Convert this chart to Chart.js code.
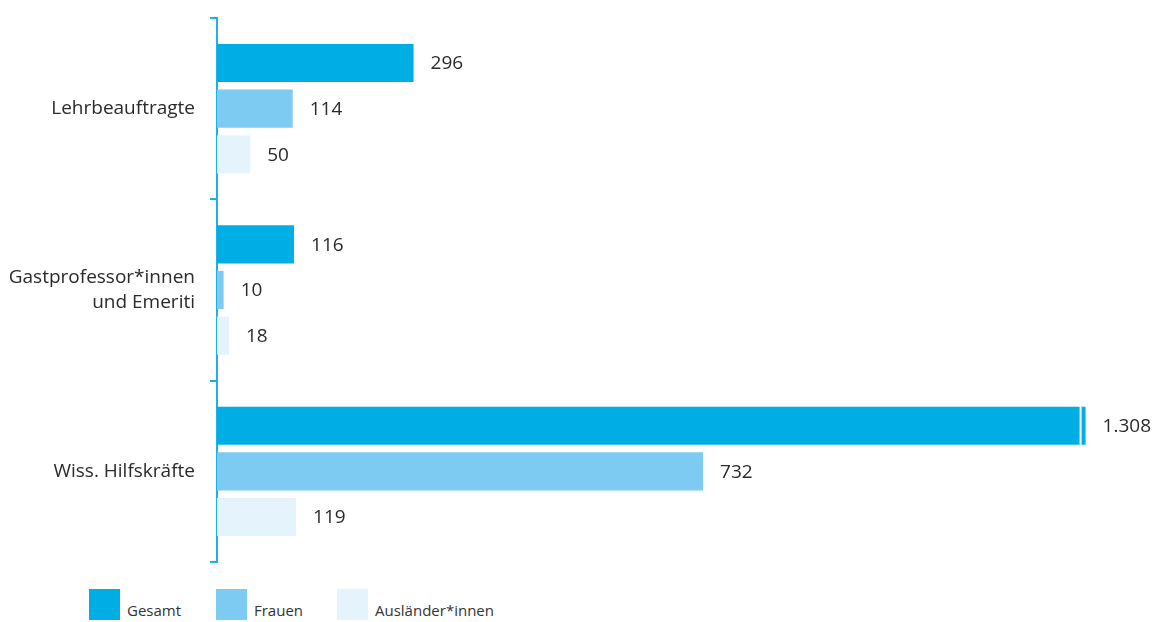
<!DOCTYPE html>
<html>
<head>
<meta charset="utf-8">
<script src="https://cdn.jsdelivr.net/npm/chart.js@4/dist/chart.umd.min.js"></script>
<style>
  html, body { margin: 0; padding: 0; background: #fff; }
  #wrap { position: relative; width: 1155px; height: 622px; }
  #box { position: absolute; left: 0; top: 0; width: 1155px; height: 580px; }
  .legend { position: absolute; top: 589px; font-family: "Open Sans", sans-serif; font-size: 15px; color: #333; }
  .legend span.sw { position: absolute; left: 0; top: 0; width: 31px; height: 31px; }
  .legend span.tx { position: absolute; top: 11px; white-space: nowrap; }
</style>
</head>
<body>
<div id="wrap">
  <div id="box"><canvas id="chart"></canvas></div>
  <div id="legend"></div>
</div>
<script>
const categories = ['Lehrbeauftragte', ['Gastprofessor*innen', 'und Emeriti'], 'Wiss. Hilfskräfte'];
const seriesNames = ['Gesamt', 'Frauen', 'Ausländer*innen'];
const gesamt = [296, 116, 1308];
const frauen = [114, 10, 732];
const auslaender = [50, 18, 119];
const colors = ['#00aee6', '#7dcbf2', '#e4f3fc'];

function fmt(v) {
    return String(v).replace(/\B(?=(\d{3})+(?!\d))/g, '.');
}

// Wertbeschriftung rechts neben jedem Balken
const valueLabels = {
    id: 'valueLabels',
    afterDatasetsDraw(chart) {
        const ctx = chart.ctx;
        ctx.save();
        ctx.font = '19px "Open Sans", sans-serif';
        ctx.fillStyle = '#2a2a2a';
        ctx.textBaseline = 'middle';
        chart.data.datasets.forEach((ds, i) => {
            chart.getDatasetMeta(i).data.forEach((bar, j) => {
                const v = ds.data[j];
                if (v > 1000) {
                    // Achsenbruch-Markierung
                    ctx.fillStyle = '#fff';
                    ctx.fillRect(bar.x - 6, bar.y - bar.height / 2, 2, bar.height);
                    ctx.fillStyle = '#2a2a2a';
                }
                ctx.fillText(fmt(v), bar.x + 17, bar.y + 1);
            });
        });
        ctx.restore();
    }
};

const ctx = document.getElementById('chart').getContext('2d');
new Chart(ctx, {
    type: 'bar',
    data: {
        labels: categories,
        datasets: [gesamt, frauen, auslaender].map((d, i) => ({
            label: seriesNames[i],
            data: d,
            backgroundColor: colors[i],
            borderWidth: 0,
            categoryPercentage: 0.755,
            barPercentage: 0.835
        }))
    },
    options: {
        indexAxis: 'y',
        responsive: true,
        maintainAspectRatio: false,
        animation: false,
        layout: { padding: { top: 18, right: 5, bottom: 18, left: 0 } },
        plugins: { legend: { display: false }, tooltip: { enabled: false } },
        scales: {
            x: {
                min: 0,
                max: 1405,
                display: false
            },
            y: {
                afterFit(scale) {
                    scale.width = 217;
                    scale.paddingTop = 0;
                    scale.paddingBottom = 0;
                },
                grid: {
                    offset: true,
                    drawOnChartArea: false,
                    color: '#1fb0e6',
                    lineWidth: 2,
                    tickLength: 7
                },
                border: { color: '#1fb0e6', width: 2 },
                ticks: {
                    padding: 15,
                    color: '#2a2a2a',
                    font: { family: '"Open Sans", sans-serif', size: 19, lineHeight: 1.3 }
                }
            }
        }
    },
    plugins: [valueLabels]
});

// Legende als HTML
const legendX = [89, 216, 337];
const lg = document.getElementById('legend');
seriesNames.forEach((n, i) => {
    const d = document.createElement('div');
    d.className = 'legend';
    d.style.left = legendX[i] + 'px';
    d.innerHTML = '<span class="sw" style="background:' + colors[i] + '"></span><span class="tx" style="left:38px">' + n + '</span>';
    lg.appendChild(d);
});
</script>
</body>
</html>
